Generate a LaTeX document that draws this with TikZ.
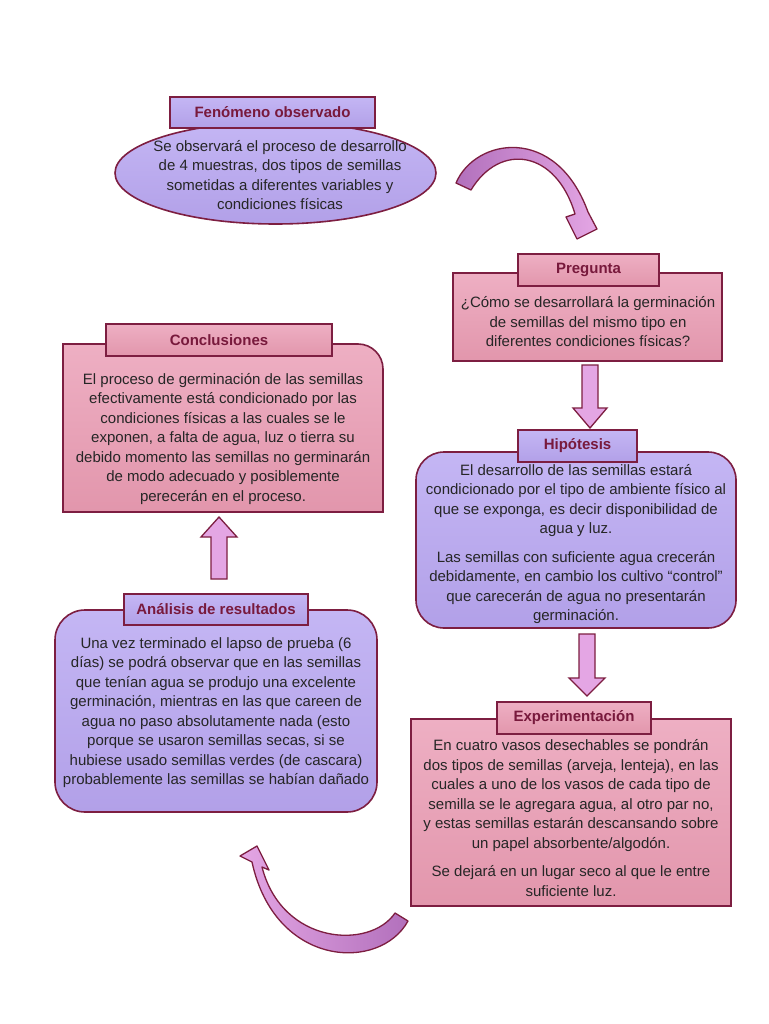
\documentclass[tikz,border=0pt]{standalone}
\usepackage{fontspec}
\setmainfont{Liberation Sans}
\usetikzlibrary{shapes.geometric}
\definecolor{maroon}{RGB}{125,30,65}
\definecolor{titlered}{RGB}{120,25,60}
\definecolor{pinkA}{RGB}{238,175,195}
\definecolor{pinkB}{RGB}{226,150,172}
\definecolor{lavA}{RGB}{196,182,244}
\definecolor{lavB}{RGB}{178,160,232}
\definecolor{plumL}{RGB}{228,166,228}
\definecolor{plumD}{RGB}{178,112,188}
\begin{document}
\begin{tikzpicture}[x=1pt,y=-1pt,
  body/.style={font=\fontsize{15}{19.5}\selectfont, align=center, text=black!85, inner sep=0pt},
  frame/.style={draw=maroon, line width=1.6pt},
  pinkfill/.style={top color=pinkA, bottom color=pinkB},
  lavfill/.style={top color=lavA, bottom color=lavB},
  ttl/.style={frame, font=\fontsize{15}{16}\selectfont\bfseries, text=titlered, inner sep=0pt},
  blockarrow/.style={draw=maroon, line width=1.3pt, fill=plumL, line join=miter},
  curvearrow/.style={draw=maroon, line width=1.3pt, left color=plumD, right color=plumL, line join=round},
  curvearrowb/.style={draw=maroon, line width=1.3pt, left color=plumL, right color=plumD, line join=round}
]
\useasboundingbox[fill=white] (0,0) rectangle (768,1024);

% ---- Fenomeno observado
\node[ellipse, frame, lavfill, minimum width=321pt, minimum height=102pt] (fenbox) at (275.5,173) {};
\node[body] (fentext) at (280,175) {Se observará el proceso de desarrollo\\ de 4 muestras, dos tipos de semillas\\ sometidas a diferentes variables y\\ condiciones físicas};
\node[ttl, lavfill, minimum width=205pt, minimum height=31pt] (fenttl) at (272.5,112.5) {Fenómeno observado};

% ---- Pregunta
\node[frame, pinkfill, minimum width=269pt, minimum height=88pt] (pregbox) at (587.5,317) {};
\node[body] (pregtext) at (588,322) {¿Cómo se desarrollará la germinación\\ de semillas del mismo tipo en\\ diferentes condiciones físicas?};
\node[ttl, pinkfill, minimum width=141pt, minimum height=32pt] (pregttl) at (588.5,270) {Pregunta};

% ---- Hipotesis
\node[frame, lavfill, rounded corners=28pt, minimum width=320pt, minimum height=176pt] (hipbox) at (576,540) {};
\node[body] (hiptext) at (576,544) {El desarrollo de las semillas estará\\ condicionado por el tipo de ambiente físico al\\ que se exponga, es decir disponibilidad de\\ agua y luz.\\[9pt] Las semillas con suficiente agua crecerán\\ debidamente, en cambio los cultivo “control”\\ que carecerán de agua no presentarán\\ germinación.};
\node[ttl, lavfill, minimum width=119pt, minimum height=32pt] (hipttl) at (577.5,446) {Hipótesis};

% ---- Experimentacion
\node[frame, pinkfill, minimum width=320pt, minimum height=187pt] (expbox) at (571,812.5) {};
\node[body] (exptext) at (571,818) {En cuatro vasos desechables se pondrán\\ dos tipos de semillas (arveja, lenteja), en las\\ cuales a uno de los vasos de cada tipo de\\ semilla se le agregara agua, al otro par no,\\ y estas semillas estarán descansando sobre\\ un papel absorbente/algodón.\\[9pt] Se dejará en un lugar seco al que le entre\\ suficiente luz.};
\node[ttl, pinkfill, minimum width=154pt, minimum height=32pt] (expttl) at (574,718) {Experimentación};

% ---- Analisis de resultados
\node[frame, lavfill, rounded corners=30pt, minimum width=322pt, minimum height=202pt] (anabox) at (216,711) {};
\node[body] (anatext) at (216,712.5) {Una vez terminado el lapso de prueba (6\\ días) se podrá observar que en las semillas\\ que tenían agua se produjo una excelente\\ germinación, mientras en las que careen de\\ agua no paso absolutamente nada (esto\\ porque se usaron semillas secas, si se\\ hubiese usado semillas verdes (de cascara)\\ probablemente las semillas se habían dañado};
\node[ttl, lavfill, minimum width=184pt, minimum height=31pt] (anattl) at (216,609.5) {Análisis de resultados};

% ---- Conclusiones
\draw[frame, pinkfill] (63,512) -- (63,344) -- (358,344) arc[start angle=90, end angle=0, radius=25pt] -- (383,512) -- cycle;
\coordinate (concbox) at (223,428);
\node[body] (conctext) at (223,439) {El proceso de germinación de las semillas\\ efectivamente está condicionado por las\\ condiciones físicas a las cuales se le\\ exponen, a falta de agua, luz o tierra su\\ debido momento las semillas no germinarán\\ de modo adecuado y posiblemente\\ perecerán en el proceso.};
\node[ttl, pinkfill, minimum width=226pt, minimum height=32pt] (concttl) at (219,340) {Conclusiones};

% ---- straight block arrows
\draw[blockarrow] (582,365) -- (598,365) -- (598,408) -- (607,408) -- (590,428) -- (573,408) -- (582,408) -- cycle;
\draw[blockarrow] (579,634) -- (595,634) -- (595,678) -- (605,678) -- (587,696) -- (569,678) -- (579,678) -- cycle;
\draw[blockarrow] (211,579) -- (227,579) -- (227,537) -- (237,537) -- (219,517) -- (201,537) -- (211,537) -- cycle;

% ---- curved arrows
\draw[curvearrow] (456,183) .. controls (475,138) and (556,124) .. (588,212)
  -- (597,229) -- (577,239) -- (566,217) -- (575,214)
  .. controls (556,150) and (500,142) .. (471,190) -- cycle;
\draw[curvearrowb] (408,921) .. controls (380,972) and (275,968) .. (252,862)
  -- (240,856) -- (257,846) -- (269,870) -- (262,867)
  .. controls (282,945) and (370,950) .. (395,913) -- cycle;
\end{tikzpicture}
\end{document}
